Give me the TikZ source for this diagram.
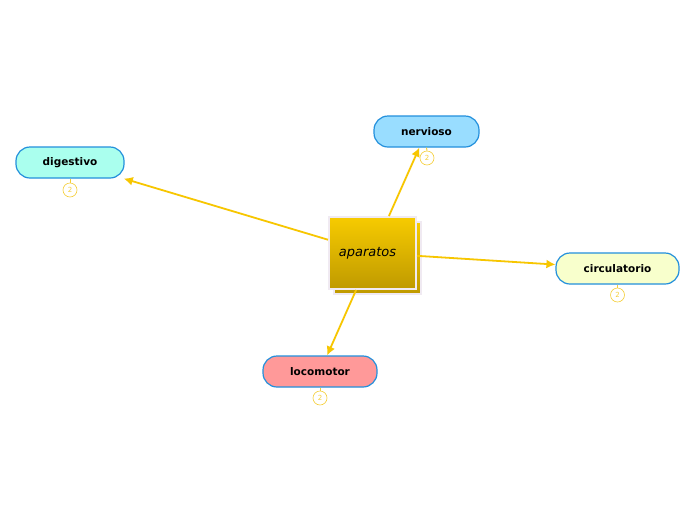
\documentclass[tikz,border=0pt]{standalone}
\usepackage{fontspec}
\setmainfont{DejaVu Sans}
\newfontfamily\handfont{DejaVu Sans}
\usetikzlibrary{arrows.meta}
\definecolor{arrowc}{HTML}{F7C600}
\definecolor{borderc}{HTML}{2390DC}
\definecolor{badgec}{HTML}{F5CF3A}
\definecolor{goldtop}{HTML}{F7CB00}
\definecolor{goldbot}{HTML}{BF9A00}
\definecolor{framec}{HTML}{F0EAF2}
\definecolor{digc}{HTML}{AAFFEE}
\definecolor{nerc}{HTML}{99DDFF}
\definecolor{circc}{HTML}{F8FFCC}
\definecolor{locc}{HTML}{FF9999}
\tikzset{
  topic/.style={draw=borderc, line width=1.2pt, rounded corners=14pt, minimum height=31pt,
    inner sep=0pt, font=\fontsize{10.5}{12}\selectfont\bfseries},
  link/.style={draw=arrowc, line width=1.8pt, -{Latex[length=9pt,width=9pt]}},
  badge/.style={circle, draw=badgec, line width=0.6pt, minimum size=14pt, inner sep=0pt,
    text=badgec, font=\fontsize{7}{8}\selectfont},
  stem/.style={draw=badgec, line width=1pt},
  goldbox/.style={draw=framec, line width=2pt, top color=goldtop, bottom color=goldbot,
    minimum width=87pt, minimum height=72pt, inner sep=0pt},
}
\begin{document}
\begin{tikzpicture}[x=1pt,y=-1pt]
\useasboundingbox (0,0) rectangle (696,520);
\fill[white] (0,0) rectangle (696,520);
% central node
\node[goldbox] (shadow) at (377.5,258) {};
\node[goldbox, font=\fontsize{13}{15}\selectfont\handfont\itshape] (center) at (372.5,253) {\hspace*{-10pt}aparatos};
% topics
\node[topic, fill=digc, minimum width=108pt] (dig) at (70,162.5) {digestivo};
\node[topic, fill=nerc, minimum width=105pt] (ner) at (426.5,131.5) {nervioso};
\node[topic, fill=circc, minimum width=123pt] (cir) at (617.5,268.5) {circulatorio};
\node[topic, fill=locc, minimum width=114pt] (loc) at (320,371.5) {locomotor};
% badges
\node[badge] (b1) at (70,190) {2};
\node[badge] (b2) at (427,158) {2};
\node[badge] (b3) at (617.5,295) {2};
\node[badge] (b4) at (320,398) {2};
\draw[stem] (dig.south) -- (b1.north);
\draw[stem] (ner.south) -- (b2.north);
\draw[stem] (cir.south) -- (b3.north);
\draw[stem] (loc.south) -- (b4.north);
% links
\draw[link] (center) -- (dig);
\draw[link] (center) -- (ner);
\draw[link] (center) -- (cir);
\draw[link] (center) -- (loc);
\end{tikzpicture}
\end{document}
